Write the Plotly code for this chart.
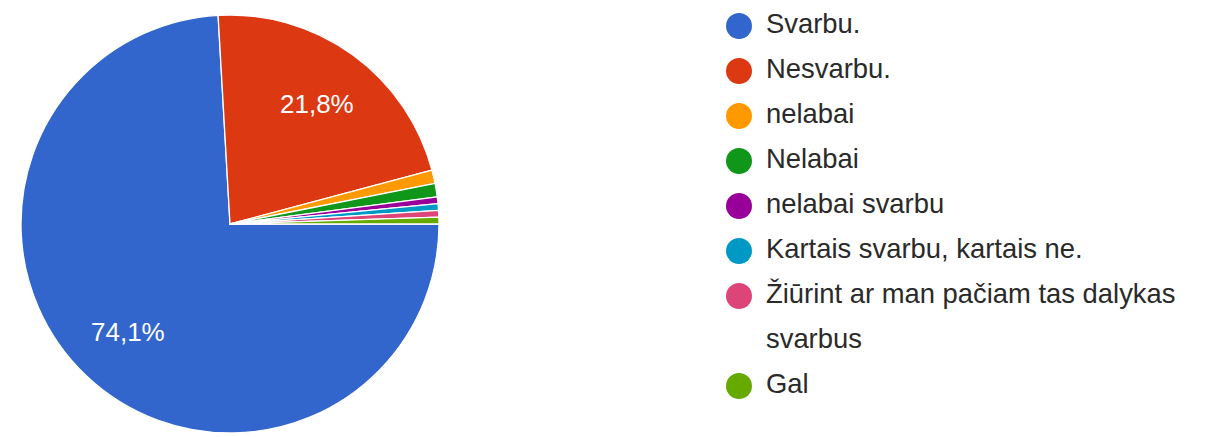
import math
import plotly.graph_objects as go

labels = ["Svarbu.", "Nesvarbu.", "nelabai", "Nelabai", "nelabai svarbu",
          "Kartais svarbu, kartais ne.",
          "Žiūrint ar man pačiam tas dalykas\nsvarbus", "Gal"]
counts = [143, 42, 2, 2, 1, 1, 1, 1]
colors = ["#3366cc", "#dc3912", "#ff9900", "#109618", "#990099",
          "#0099c6", "#dd4477", "#66aa00"]

W, H = 1209, 437
OFF = 8  # browser body margin offset
FONT = "Liberation Sans, Arial, sans-serif"

# pie geometry (figure pixels)
CX, CY, R = 230 - OFF, 224 - OFF, 209
ROT = 90  # start angle, clockwise from 12 o'clock

fig = go.Figure()

fig.add_trace(go.Pie(
    labels=[l.replace("\n", " ") for l in labels],
    values=counts,
    textinfo="none",
    marker=dict(colors=colors, line=dict(color="white", width=1.3)),
    sort=False,
    direction="clockwise",
    rotation=ROT,
    showlegend=False,
    hoverinfo="label+percent",
    domain=dict(x=[(CX - R) / W, (CX + R) / W],
                y=[(H - (CY + R)) / H, (H - (CY - R)) / H]),
))

# percentage labels for large slices, placed along each slice's mid-angle
total = sum(counts)
cum = 0
for c in counts:
    p = 100.0 * c / total
    mid = ROT + 360.0 * (cum + c / 2) / total
    cum += c
    if p < 5:
        continue
    a = math.radians(mid)
    r = 0.71 * R
    px = CX + r * math.sin(a)
    py = CY - r * math.cos(a)
    fig.add_annotation(
        x=px / W, y=(H - py) / H, xref="paper", yref="paper",
        text=f"{p:.1f}%".replace(".", ","), showarrow=False,
        xanchor="center", yanchor="middle",
        font=dict(color="white", size=26, family=FONT),
    )

# custom legend: rows (one per text line)
item_rows = []
line_rows = []
line_texts = []
row = 0
for lab in labels:
    parts = lab.split("\n")
    item_rows.append(row)
    for part in parts:
        line_rows.append(row)
        line_texts.append(part)
        row += 1

fig.add_trace(go.Scatter(
    x=[739 - OFF] * len(labels), y=item_rows, mode="markers",
    marker=dict(size=26, color=colors, line=dict(width=0)),
    cliponaxis=False,
    showlegend=False, hoverinfo="skip", xaxis="x", yaxis="y",
))
fig.add_trace(go.Scatter(
    x=[766 - OFF] * len(line_texts), y=line_rows, mode="text",
    text=line_texts, textposition="middle right",
    textfont=dict(size=27.4, color="#2a2a2a", family=FONT),
    cliponaxis=False,
    showlegend=False, hoverinfo="skip", xaxis="x", yaxis="y",
))

top_px, step = 26 - OFF, 45.0
fig.update_layout(
    width=W, height=H,
    margin=dict(l=0, r=0, t=0, b=0),
    paper_bgcolor="white", plot_bgcolor="rgba(0,0,0,0)",
    xaxis=dict(domain=[0.5, 1], range=[W * 0.5, W], visible=False, fixedrange=True),
    yaxis=dict(domain=[0, 1], range=[(H - top_px) / step, -top_px / step],
               visible=False, fixedrange=True),
    showlegend=False,
)

fig.write_html("out.html")
